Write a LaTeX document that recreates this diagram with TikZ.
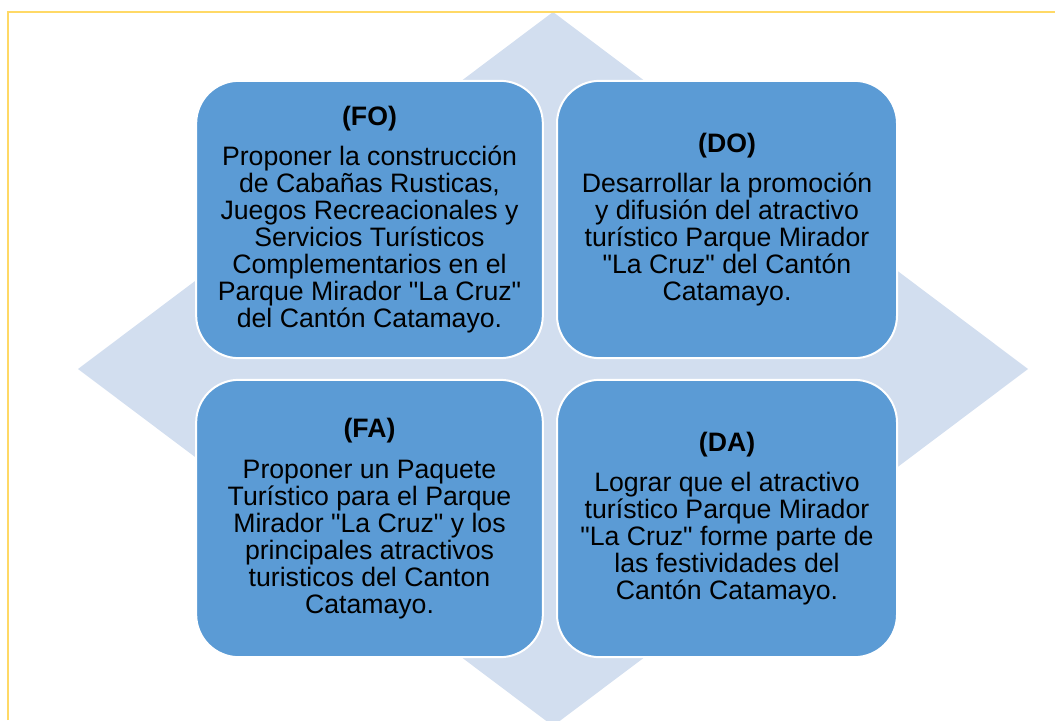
\documentclass[tikz,border=0pt]{standalone}
\usepackage{fontspec}
\setmainfont{Liberation Sans}
\definecolor{cuadro}{HTML}{5B9BD5}
\definecolor{rombo}{HTML}{D2DEEF}
\definecolor{marco}{HTML}{FFD966}
\begin{document}
\begin{tikzpicture}[x=0.75pt,y=-0.75pt]
	\tikzset{caja/.style={draw=white,line width=1.5pt,fill=cuadro,rounded corners=32pt,
		align=center,inner sep=0pt,minimum height=208pt,
		font=\fontsize{20}{20.25}\selectfont}}
	\def\q{\textquotedbl}
	\def\xmax{1055}
	\def\ymax{720}
	\useasboundingbox (0,0) rectangle (\xmax,\ymax);
	\begin{scope}
		\clip (0,0) rectangle (\xmax,\ymax);
		\fill[rombo] (553,12)--(1028,369)--(553,726)--(78,369)--cycle;
		\draw[marco,line width=1.8pt] (8,\ymax)--(8,12)--(\xmax,12);
	\end{scope}
	\node[caja,minimum width=260pt] (fo) at (369.5,219.5)
		{\textbf{(FO)}\\[10pt]Proponer la construcción\\de Cabañas Rusticas,\\Juegos Recreacionales y\\Servicios Turísticos\\Complementarios en el\\Parque Mirador \q La Cruz\q\\del Cantón Catamayo.};
	\node[caja,minimum width=255pt] (do) at (727,219.5)
		{\textbf{(DO)}\\[10pt]Desarrollar la promoción\\y difusión del atractivo\\turístico Parque Mirador\\\q La Cruz\q{} del Cantón\\Catamayo.};
	\node[caja,minimum width=260pt] (fa) at (369.5,518.5)
		{\textbf{(FA)}\\[10pt]Proponer un Paquete\\Turístico para el Parque\\Mirador \q La Cruz\q{} y los\\principales atractivos\\turisticos del Canton\\Catamayo.};
	\node[caja,minimum width=255pt] (da) at (727,518.5)
		{\textbf{(DA)}\\[10pt]Lograr que el atractivo\\turístico Parque Mirador\\\q La Cruz\q{} forme parte de\\las festividades del\\Cantón Catamayo.};
\end{tikzpicture}
\end{document}
